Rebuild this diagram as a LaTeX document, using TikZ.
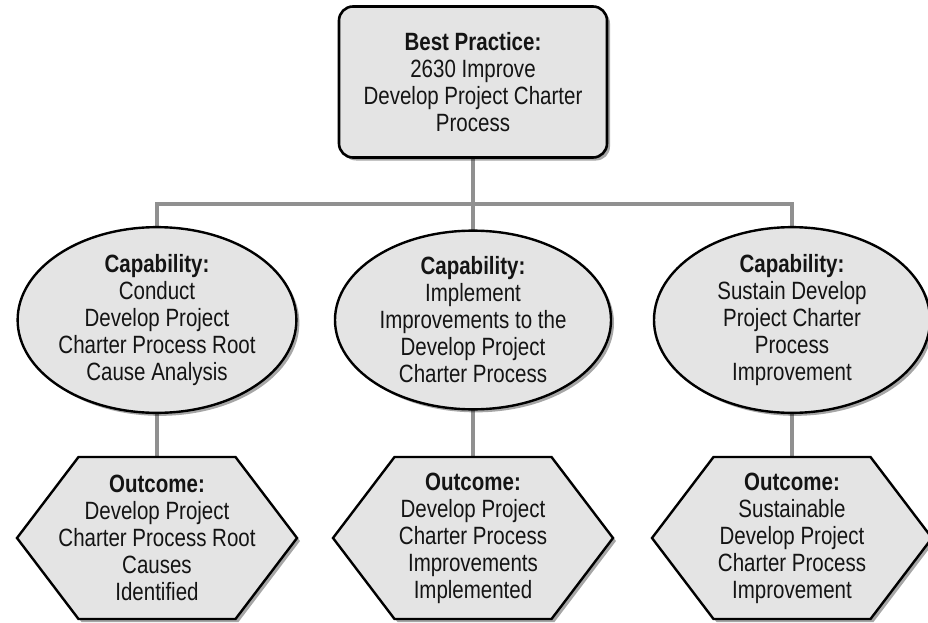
\documentclass[tikz,border=0pt]{standalone}
\usepackage{fontspec}
\setmainfont{Liberation Sans}[FakeStretch=0.82]
\usetikzlibrary{shapes.geometric,shadows}
\definecolor{boxfill}{HTML}{E4E4E4}
\definecolor{connc}{HTML}{909090}
\tikzset{
  shade/.style={drop shadow={shadow xshift=3pt,shadow yshift=-3pt,opacity=0.35,fill=black}},
  txt/.style={align=center,font=\fontsize{25}{27}\selectfont,text=black!92},
  topbox/.style={txt,draw=black,line width=2.6pt,fill=boxfill,rounded corners=14pt,
    minimum width=268pt,minimum height=151pt,inner sep=0pt,shade},
  capell/.style={txt,ellipse,draw=black,line width=2.4pt,fill=boxfill,
    minimum width=276pt,minimum height=174pt,inner sep=0pt,shade},
  hextxt/.style={txt,minimum width=280pt,minimum height=162pt,inner sep=0pt},
  hexshape/.style={draw=black,line width=2.4pt,fill=boxfill,line join=miter,shade},
  conn/.style={draw=connc,line width=3.4pt}
}
\begin{document}
\begin{tikzpicture}[x=1pt,y=-1pt]
\useasboundingbox (0,0) rectangle (928,623);
% connectors (behind shapes)
\coordinate (bar) at (473,204);
\coordinate (tb) at (473,82);
\coordinate (a1) at (157,320);
\coordinate (a2) at (473,320);
\coordinate (a3) at (792,320);
\coordinate (b1) at (157,538);
\coordinate (b2) at (473,538);
\coordinate (b3) at (792,538);
\draw[conn] (tb) -- (bar);
\draw[conn] (a1) |- (bar) -| (a3);
\draw[conn] (bar) -- (a2) -- (b2);
\draw[conn] (a1) -- (b1);
\draw[conn] (a3) -- (b3);
% hexagon outlines
\foreach \c in {b1,b2,b3}{
  \draw[hexshape] (\c) ++(-140,0) -- ++(61.5,-81) -- ++(157,0) -- ++(61.5,81)
     -- ++(-61.5,81) -- ++(-157,0) -- cycle;
}
% nodes
\node[topbox] (t) at (tb) {\textbf{Best Practice:}\\2630 Improve\\Develop Project Charter\\Process};
\node[capell] (c1) at (a1) {\textbf{Capability:}\\Conduct\\Develop Project\\Charter Process Root\\Cause Analysis};
\node[capell] (c2) at (a2) {\textbf{Capability:}\\Implement\\Improvements to the\\Develop Project\\Charter Process};
\node[capell] (c3) at (a3) {\textbf{Capability:}\\Sustain Develop\\Project Charter\\Process\\Improvement};
\node[hextxt] (h1) at (b1) {\textbf{Outcome:}\\Develop Project\\Charter Process Root\\Causes\\Identified};
\node[hextxt] (h2) at (b2) {\textbf{Outcome:}\\Develop Project\\Charter Process\\Improvements\\Implemented};
\node[hextxt] (h3) at (b3) {\textbf{Outcome:}\\Sustainable\\Develop Project\\Charter Process\\Improvement};
\end{tikzpicture}
\end{document}
